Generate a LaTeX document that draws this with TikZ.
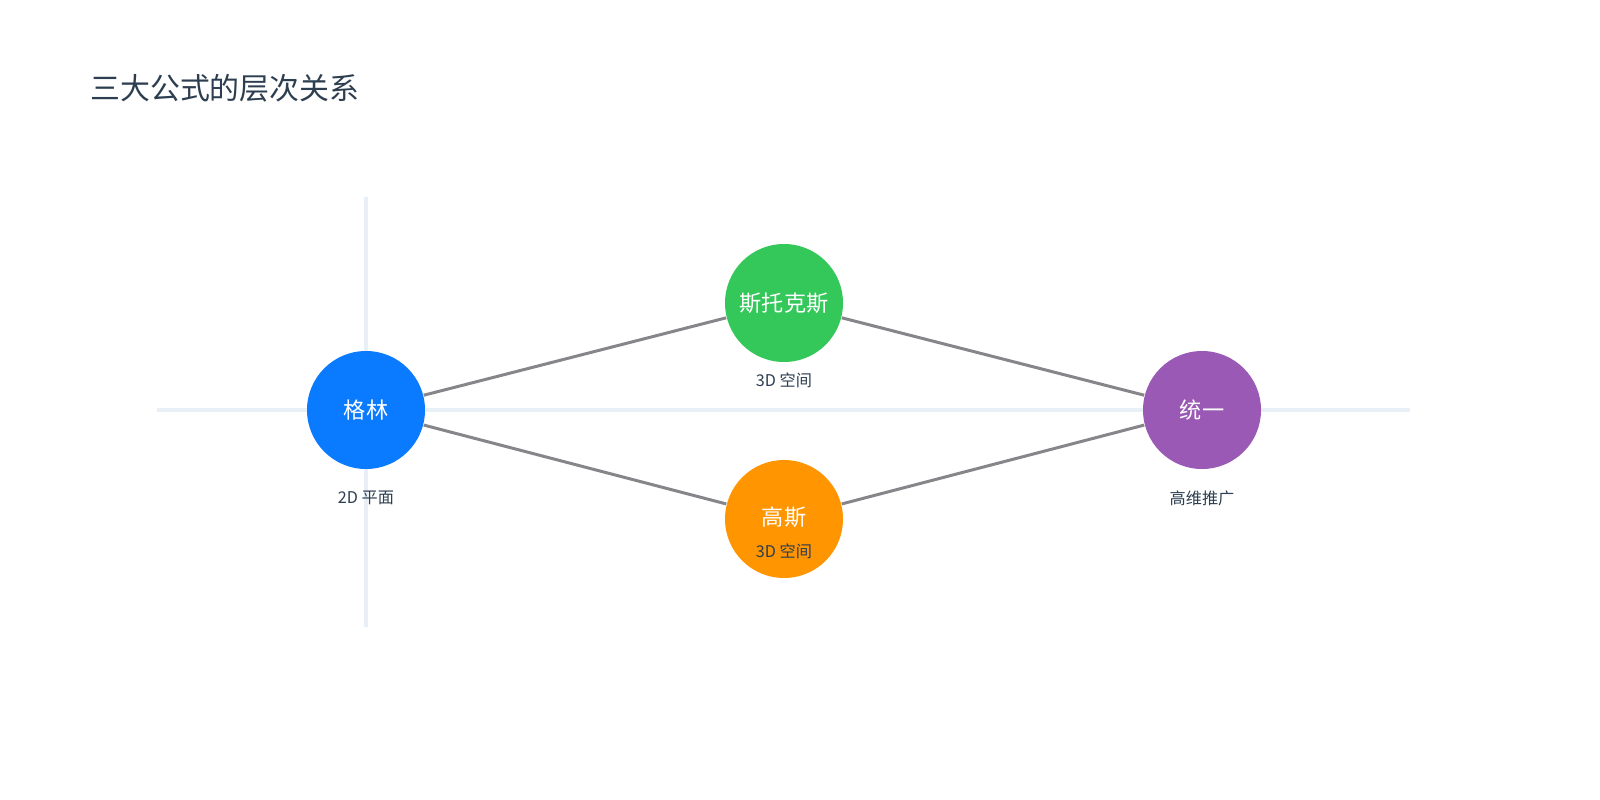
\documentclass[tikz,border=0pt]{standalone}
\usepackage{fontspec}
\newfontfamily\cjk{Noto Sans CJK SC}
\begin{document}
\begin{tikzpicture}[x=0.01cm,y=-0.01cm,
  axis/.style={draw=axisc,line width=1.1pt},
  edge/.style={draw=edgec,line width=0.85pt},
  ball/.style={circle,minimum size=118*0.01cm,inner sep=0pt,text=white,font=\cjk\fontsize{6.3}{7}\selectfont},
  lab/.style={text=titc,font=\cjk\fontsize{4.6}{5}\selectfont}]
\definecolor{axisc}{HTML}{E8EFF7}
\definecolor{edgec}{HTML}{86858A}
\definecolor{titc}{HTML}{2C3E50}
\definecolor{cb}{HTML}{0A7AFF}
\definecolor{cg}{HTML}{34C759}
\definecolor{co}{HTML}{FF9500}
\definecolor{cp}{HTML}{9B59B6}
\useasboundingbox[fill=white] (0,0) rectangle (1600,800);
\node[anchor=west,text=titc,font=\cjk\fontsize{8.5}{10}\selectfont] (title) at (78,88) {三大公式的层次关系};
\coordinate (hl) at (157,410); \coordinate (hr) at (1410,410);
\coordinate (vt) at (366,197); \coordinate (vb) at (366,627);
\draw[axis] (hl) -- (hr);
\draw[axis] (vt) -- (vb);
\node[ball,fill=cb] (g) at (366,410) {格林};
\node[ball,fill=cg] (s) at (784,303) {斯托克斯};
\node[ball,fill=co] (ga) at (784,519) {};
\node[ball,fill=cp] (u) at (1202,410) {统一};
\draw[edge] (g) -- (s);
\draw[edge] (g) -- (ga);
\draw[edge] (s) -- (u);
\draw[edge] (ga) -- (u);
\node[ball,text=white] (gat) at (784,517) {高斯};
\node[lab] (l1) at (366,498) {2D 平面};
\node[lab] (l2) at (784,380) {3D 空间};
\node[lab] (l3) at (784,551) {3D 空间};
\node[lab] (l4) at (1202,498) {高维推广};
\end{tikzpicture}
\end{document}
